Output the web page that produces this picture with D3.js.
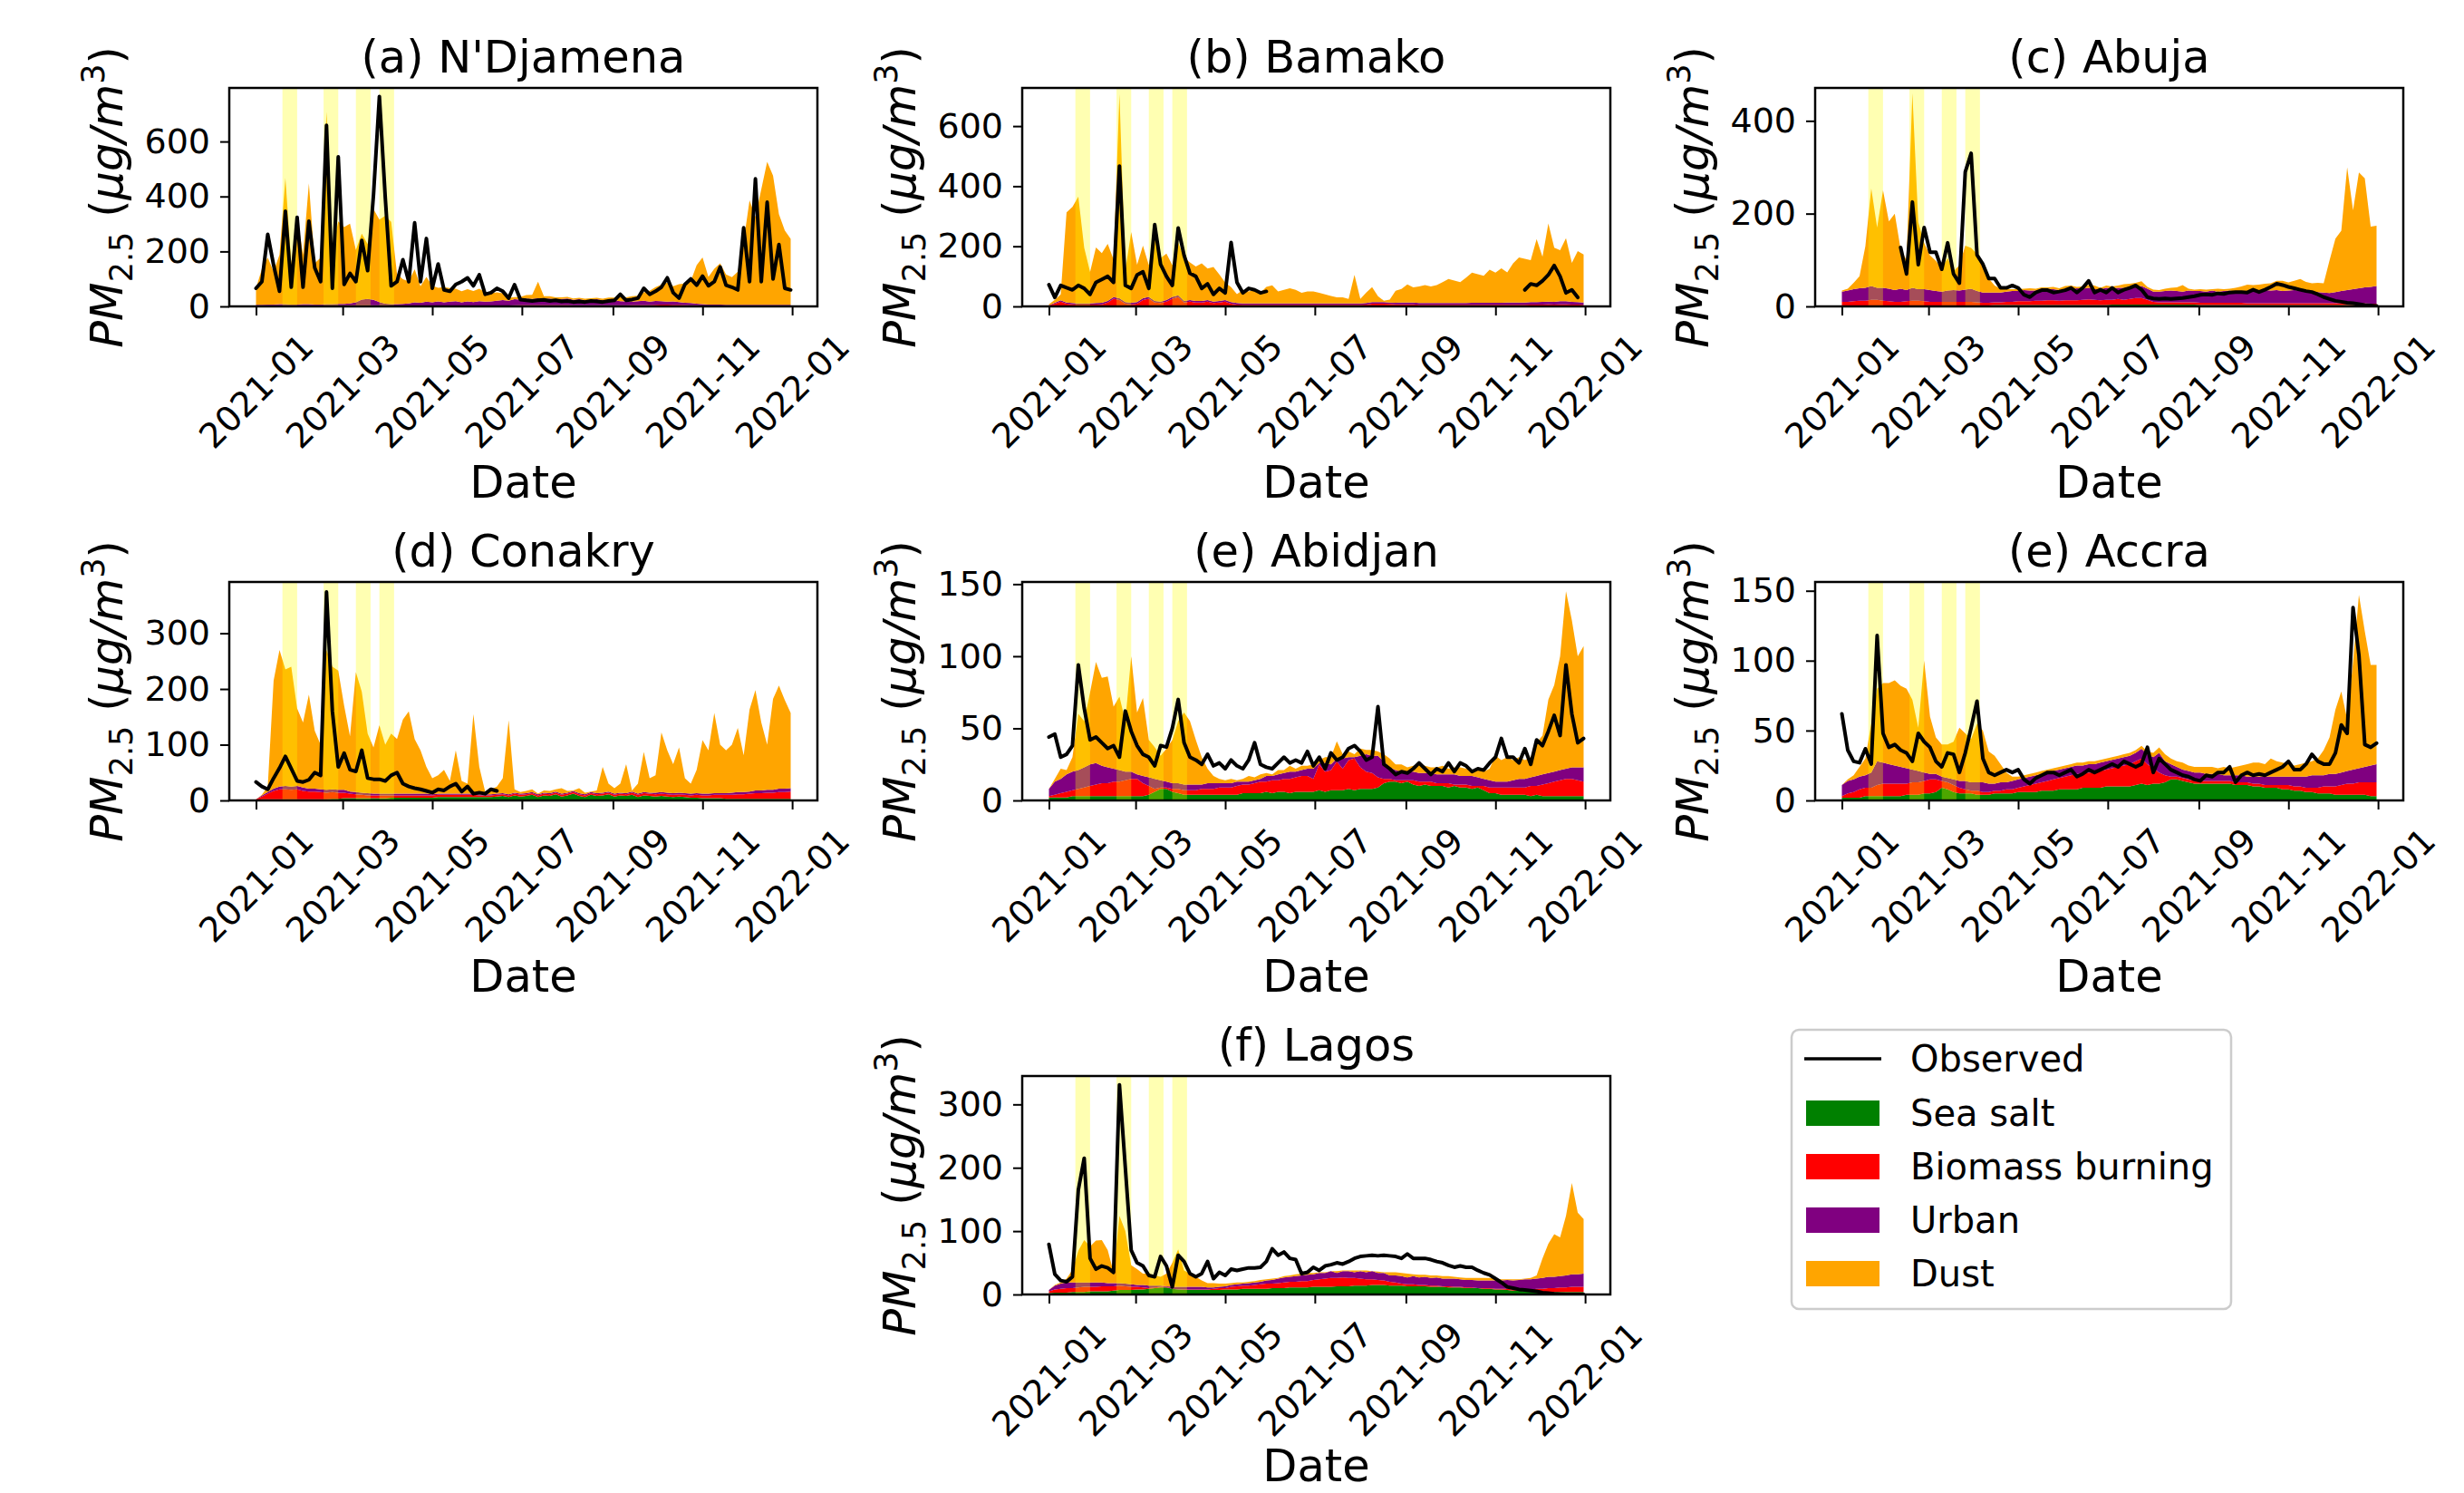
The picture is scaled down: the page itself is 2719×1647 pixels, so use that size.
<!DOCTYPE html>
<html>
<head>
<meta charset="utf-8">
<script src="https://cdn.jsdelivr.net/npm/d3@7"></script>
<style>
  body { margin: 0; background: #fff; }
  text { font-family: "DejaVu Sans", sans-serif; fill: #000; }
</style>
</head>
<body>
<svg id="mainsvg"></svg>
<script>
// all series are sampled every 4 days from 2021-01-01 (92 values, last = 2021-12-31)
const ndjObserved = [66,90,262,150,55,346,70,324,70,310,
  140,90,659,66,544,80,120,90,240,130,
  407,764,396,75,90,170,90,304,90,247,
  66,154,60,55,80,90,104,75,115,44,
  50,66,55,30,79,25,22,20,22,24,
  20,22,18,20,16,18,16,20,18,16,
  20,22,44,22,25,30,66,44,55,70,
  104,50,30,80,100,77,110,75,90,143,
  77,70,60,286,90,464,90,379,100,225,
  66,60];
const ndjDust = [60,130,170,120,180,460,150,320,180,440,
  150,170,700,200,300,280,290,190,240,200,
  330,300,320,300,110,90,80,120,60,90,
  60,50,55,50,45,40,45,40,45,35,
  30,30,25,10,8,10,12,15,60,10,
  8,8,6,6,5,5,6,6,5,6,
  8,10,15,15,20,20,30,40,50,60,
  70,55,65,70,80,140,170,100,130,150,
  110,100,120,230,380,320,420,520,470,330,
  270,240];
const ndjUrban = [3,3,3,3,4,4,3,3,4,4,
  3,3,4,4,5,5,6,10,20,22,
  20,12,6,5,5,6,8,12,10,14,
  12,15,12,14,16,12,15,13,16,14,
  15,18,20,18,22,20,24,22,25,22,
  24,20,22,24,20,22,18,20,22,18,
  20,18,15,14,12,14,16,12,14,12,
  10,12,10,8,8,6,5,4,4,4,
  3,3,3,3,3,3,3,3,3,3,
  3,3];
const ndjBiomass = [2,2,3,3,3,3,3,3,3,3,
  3,3,3,3,3,3,4,4,4,4,
  3,3,3,2,2,2,2,2,2,2,
  2,2,2,2,2,2,2,2,2,2,
  2,2,2,2,3,3,3,3,3,3,
  3,3,3,3,3,3,3,3,3,3,
  3,3,3,3,4,4,4,4,5,6,
  6,5,5,4,3,3,2,2,2,2,
  2,2,2,2,2,2,2,2,2,2,
  2,2];
const ndjSeaSalt = [1,1,1,1,1,1,1,1,1,1,
  1,1,1,1,1,1,1,1,1,1,
  1,1,1,1,1,1,1,1,1,1,
  1,1,1,1,1,1,1,1,1,1,
  1,1,1,1,1,2,2,2,2,2,
  2,2,2,2,1,1,1,1,1,1,
  1,1,1,1,1,1,1,1,1,1,
  1,1,1,1,1,1,1,1,1,1,
  1,1,1,1,1,1,1,1,1,1,
  1,1];

const bamObserved = [72,30,70,62,55,70,60,40,80,90,
  100,80,467,70,60,105,115,60,272,140,
  100,70,261,170,110,100,60,75,40,60,
  45,213,80,45,60,55,45,50,null,null,
  null,null,null,null,null,null,null,null,null,null,
  null,null,null,null,null,null,null,null,null,null,
  null,null,null,null,null,null,null,null,null,null,
  null,null,null,null,null,null,null,null,null,null,
  null,55,75,70,85,105,136,100,45,55,
  30,null];
const bamDust = [3,10,20,300,320,355,185,105,185,165,
  190,125,680,105,235,125,175,105,225,145,
  155,105,175,145,125,115,125,105,115,88,
  58,50,30,45,40,45,35,55,60,40,
  45,50,45,35,40,40,35,30,25,20,
  20,15,95,15,35,50,20,5,10,40,
  45,60,50,55,60,55,60,70,80,75,
  70,85,100,95,90,110,100,115,100,130,
  150,145,140,210,150,260,180,170,210,130,
  170,160];
const bamUrban = [1,3,4,4,4,4,4,4,5,5,
  5,5,6,5,5,5,6,6,5,5,
  5,6,6,5,5,5,5,5,5,5,
  5,5,5,5,5,5,5,5,5,5,
  5,5,5,5,5,5,5,5,5,5,
  5,5,5,5,5,5,5,5,5,5,
  6,6,6,6,6,6,6,6,6,6,
  6,6,7,7,7,7,7,7,8,8,
  8,8,8,8,9,9,9,10,10,9,
  8,8];
const bamBiomass = [2,8,15,8,6,5,5,5,5,6,
  12,25,20,8,6,8,20,25,12,10,
  15,25,30,12,15,12,12,15,10,12,
  15,8,5,4,4,4,4,4,4,4,
  4,4,4,4,4,4,4,4,4,4,
  4,4,4,4,5,6,6,6,5,4,
  4,4,4,4,4,4,4,4,4,4,
  4,4,4,4,4,4,4,4,4,4,
  4,4,5,5,5,6,5,6,6,5,
  5,4];
const bamSeaSalt = [1,1,1,1,1,1,1,1,1,1,
  1,1,1,1,1,1,1,1,1,1,
  1,1,1,1,1,1,1,1,1,1,
  1,1,1,1,1,1,1,1,1,1,
  1,1,1,1,1,1,1,1,1,1,
  1,1,1,1,1,3,3,3,3,3,
  3,3,3,1,1,1,1,1,1,1,
  1,1,1,1,1,1,1,1,1,1,
  1,1,1,1,1,1,1,1,1,1,
  1,1];

const abuObserved = [null,null,null,null,null,null,null,null,null,null,
  127,70,225,90,170,117,117,80,137,70,
  50,290,330,111,91,60,60,40,40,45,
  40,25,20,30,35,35,30,32,35,40,
  30,40,55,30,36,30,40,30,36,40,
  45,36,20,17,16,17,16,17,18,20,
  22,25,26,25,28,27,30,31,31,30,
  36,31,36,42,49,46,42,39,36,33,
  31,26,20,16,12,10,8,7,5,3,
  2,1];
const abuDust = [2,4,14,26,90,210,130,210,145,165,
  85,65,420,145,100,75,65,50,70,40,
  55,95,88,80,55,30,15,8,5,4,
  4,3,5,4,5,3,5,4,6,8,
  3,5,6,8,3,5,4,5,8,6,
  8,10,4,4,3,5,6,8,14,4,
  3,4,4,3,6,4,4,8,10,14,
  12,14,14,16,20,22,18,20,25,20,
  18,20,20,70,115,130,265,170,250,235,
  130,130];
const abuUrban = [22,24,26,27,28,30,26,28,27,25,
  28,24,28,25,26,25,23,22,24,25,
  24,26,28,24,22,22,21,21,22,23,
  22,24,23,22,24,25,24,23,25,24,
  26,24,25,23,24,26,25,24,26,27,
  25,26,24,22,23,24,25,24,23,25,
  24,25,24,26,24,25,26,24,25,26,
  27,26,28,27,28,26,27,28,27,26,
  25,24,23,22,24,26,28,30,32,34,
  36,38];
const abuBiomass = [8,8,9,10,10,12,12,10,9,8,
  8,9,10,10,9,8,8,8,8,8,
  8,8,8,7,6,6,6,6,7,7,
  8,8,8,9,9,10,10,9,10,10,
  10,11,12,11,10,11,10,12,10,12,
  14,14,10,6,5,5,5,5,5,5,
  5,5,5,5,5,5,5,5,5,4,
  4,4,4,4,4,4,4,4,4,4,
  4,4,4,4,4,4,4,4,4,4,
  3,3];
const abuSeaSalt = [2,2,2,2,2,2,2,2,2,2,
  2,2,2,2,2,2,2,2,2,2,
  2,2,2,2,2,2,3,3,3,3,
  3,3,3,3,3,3,3,3,3,3,
  3,3,3,3,3,3,4,4,4,4,
  4,4,4,4,4,4,4,4,4,4,
  4,3,3,3,3,3,3,3,3,3,
  3,3,3,3,3,3,3,3,3,3,
  3,3,3,3,3,3,3,3,3,3,
  3,3];

const conObserved = [33,25,20,40,58,79,57,35,33,37,
  50,45,374,160,60,85,55,52,90,40,
  38,38,35,45,50,30,25,22,20,17,
  14,20,18,25,30,16,25,12,14,12,
  20,17,null,null,null,null,null,null,null,null,
  null,null,null,null,null,null,null,null,null,null,
  null,null,null,null,null,null,null,null,null,null,
  null,null,null,null,null,null,null,null,null,null,
  null,null,null,null,null,null,null,null,null,null,
  null,null];
const conDust = [0,1,10,194,245,209,215,139,117,169,
  104,80,251,220,214,151,99,215,181,107,
  83,123,88,108,98,133,148,98,78,48,
  29,33,43,23,78,23,18,143,49,5,
  9,13,27,133,6,3,4,5,1,4,
  4,4,10,3,1,9,3,1,5,46,
  14,10,16,52,2,18,72,26,31,107,
  76,52,81,27,18,42,96,78,144,87,
  77,86,115,66,147,180,122,81,163,185,
  159,135];
const conUrban = [0,2,3,4,5,6,6,6,6,5,
  5,5,5,5,5,5,4,4,4,4,
  3,3,3,3,3,3,3,3,3,3,
  2,2,2,2,2,2,2,2,2,2,
  2,2,2,2,2,2,2,2,2,2,
  2,2,2,2,2,2,2,2,2,2,
  2,2,2,2,2,2,2,2,3,3,
  3,3,3,3,3,3,3,3,3,3,
  3,4,4,4,4,5,5,5,5,6,
  6,6];
const conBiomass = [1,5,10,15,18,18,17,18,15,14,
  14,13,12,12,11,10,8,7,6,5,
  5,5,5,4,4,4,4,4,4,4,
  4,4,4,4,4,4,4,4,3,3,
  3,3,3,3,3,3,3,3,3,3,
  3,3,3,3,3,3,3,3,3,3,
  3,3,3,3,4,4,4,4,4,4,
  4,4,4,4,4,5,5,5,6,6,
  7,7,8,8,9,10,10,11,11,12,
  12,13];
const conSeaSalt = [1,2,2,2,2,2,2,2,2,2,
  2,2,2,3,3,4,4,4,4,4,
  4,4,4,5,5,5,5,5,5,5,
  5,6,6,6,6,6,6,6,6,6,
  6,7,8,6,9,7,8,10,6,9,
  8,11,7,9,12,8,6,10,8,9,
  11,7,9,8,10,6,9,8,7,8,
  7,6,7,6,5,5,4,4,4,4,
  3,3,3,3,3,3,3,3,3,3,
  3,3];

const abiObserved = [44,46,30,32,38,94,64,42,44,40,
  36,38,30,62,48,38,32,30,24,38,
  37,50,70,40,30,28,25,32,24,26,
  22,28,24,22,28,40,25,23,22,26,
  30,26,28,26,34,24,30,22,33,28,
  30,36,38,34,28,30,65,25,22,18,
  20,19,22,26,22,18,22,20,26,20,
  26,24,20,22,21,26,30,43,30,30,
  26,36,25,42,38,48,59,45,94,60,
  40,43];
const abiDust = [0,2,7,3,10,39,32,50,70,61,
  63,43,51,35,80,43,54,26,22,17,
  23,30,43,50,44,31,19,10,5,3,
  2,3,1,2,4,2,3,2,1,3,
  2,4,2,3,2,3,2,4,5,12,
  3,4,2,5,3,4,3,5,6,4,
  5,3,4,6,5,4,5,6,4,5,
  6,5,4,6,5,8,18,15,17,14,
  15,13,14,23,27,51,60,79,123,102,
  77,84];
const abiUrban = [5,9,10,12,13,13,14,15,15,12,
  11,9,8,6,5,3,5,6,7,5,
  4,4,4,4,4,4,3,4,4,3,
  3,3,3,2,2,2,2,4,3,4,
  4,5,4,4,5,7,1,6,4,2,
  7,2,1,8,12,12,15,12,8,7,
  6,6,6,6,6,6,6,6,6,7,
  6,6,7,6,5,5,4,4,4,5,
  6,6,6,7,7,7,7,7,7,8,
  9,10];
const abiBiomass = [1,2,3,4,4,5,6,7,8,9,
  9,10,10,11,12,12,9,6,2,1,
  1,2,3,3,3,3,4,4,4,5,
  5,5,6,6,6,7,8,7,9,8,
  9,10,10,11,11,9,18,14,14,20,
  15,20,22,15,12,11,7,3,2,1,
  2,1,3,3,2,3,2,2,3,1,
  2,2,2,1,3,4,4,5,5,5,
  5,5,7,6,8,9,10,11,12,12,
  11,10];
const abiSeaSalt = [2,2,2,2,3,3,3,3,3,3,
  3,3,3,3,3,3,3,4,6,8,
  8,6,5,4,4,4,4,4,4,4,
  4,4,4,5,5,5,5,6,5,6,
  6,5,6,6,6,6,7,6,7,7,
  7,8,7,8,8,8,9,12,13,13,
  12,13,11,10,11,10,10,10,9,10,
  9,9,8,9,7,5,5,4,4,4,
  4,4,3,4,3,3,3,3,3,3,
  3,3];

const accObserved = [62,36,28,27,37,26,118,48,38,40,
  36,34,28,48,42,38,28,24,34,33,
  20,34,52,71,30,20,18,20,22,20,
  22,15,12,16,18,20,20,18,20,22,
  17,19,22,20,22,24,26,24,28,26,
  24,26,38,20,30,26,22,20,18,17,
  15,14,18,17,20,20,24,13,18,20,
  18,19,18,20,22,24,28,22,22,26,
  33,28,26,26,34,54,48,138,104,40,
  38,41];
const accDust = [0,1,3,7,12,35,52,57,58,61,
  58,57,50,31,80,41,26,23,24,27,
  38,34,31,42,37,23,20,13,7,3,
  2,2,2,2,2,2,2,2,2,2,
  2,2,2,2,2,2,2,2,2,2,
  2,2,2,3,4,5,4,4,5,4,
  4,4,5,5,4,6,5,6,7,9,
  10,10,9,13,11,10,9,8,9,10,
  10,12,18,26,46,58,37,77,124,97,
  72,71];
const accUrban = [8,9,9,9,9,11,17,15,14,13,
  12,11,9,8,6,4,4,3,3,4,
  5,6,6,6,7,6,5,6,5,6,
  6,6,6,6,6,6,6,6,6,6,
  6,6,6,6,6,6,6,6,6,6,
  6,7,7,8,14,10,9,7,6,6,
  6,6,5,5,5,4,4,5,5,4,
  5,5,6,6,6,6,6,7,7,8,
  9,9,8,9,9,9,9,10,10,11,
  12,13];
const accBiomass = [1,3,4,6,6,6,8,9,9,9,
  9,8,9,9,9,10,9,5,5,5,
  4,3,2,3,2,2,2,2,3,3,
  3,4,5,6,6,7,8,8,9,10,
  11,10,11,11,12,12,13,14,15,16,
  17,18,15,11,8,5,2,2,2,2,
  2,2,2,2,2,2,2,2,2,2,
  2,2,2,2,2,3,3,3,3,3,
  3,4,5,5,6,7,8,8,9,9,
  10,10];
const accSeaSalt = [2,2,2,2,3,3,3,3,3,3,
  3,4,4,4,5,5,6,9,8,6,
  5,5,5,4,4,4,5,5,5,5,
  6,6,6,6,7,7,7,8,8,8,
  8,9,9,9,9,10,10,10,10,10,
  11,12,11,12,12,13,15,15,14,13,
  12,12,12,12,12,12,12,11,11,11,
  10,10,9,9,9,8,8,7,7,6,
  6,5,5,5,4,4,4,4,4,4,
  3,3];

const lagObserved = [79,32,22,20,28,165,215,57,40,45,
  42,35,331,200,70,50,45,30,28,60,
  45,12,62,52,33,28,33,52,25,35,
  30,40,38,40,42,42,43,52,72,62,
  67,57,55,33,35,43,38,45,47,50,
  48,52,57,60,61,62,61,62,61,60,
  57,64,57,57,57,55,52,50,46,43,
  45,43,43,38,34,31,25,19,12,10,
  8,7,6,5,3,2,1,0.5,0,0,
  0,0];
const lagDust = [0,1,2,6,20,50,67,57,66,67,
  52,17,106,83,30,25,18,19,16,14,
  20,38,59,26,21,16,10,7,7,5,
  4,3,3,2,2,2,3,2,2,1,
  2,2,3,3,3,2,1,1,0,3,
  1,1,3,1,3,0,2,1,5,5,
  5,6,3,4,3,4,3,4,4,3,
  3,3,3,4,4,4,3,2,1,2,
  1,1,2,5,31,52,67,61,94,144,
  97,86];
const lagUrban = [2,6,8,9,9,8,7,7,7,6,
  5,5,4,4,4,3,4,4,3,2,
  1,3,4,4,4,4,4,3,2,2,
  3,3,3,3,4,4,4,5,6,7,
  8,8,9,9,10,9,10,9,11,8,
  10,11,9,12,11,13,11,12,10,11,
  12,11,13,12,13,12,13,12,12,13,
  12,12,12,12,12,12,13,13,14,14,
  15,16,16,16,17,18,18,18,19,20,
  20,21];
const lagBiomass = [3,5,6,7,6,7,8,7,7,8,
  8,7,7,6,5,4,3,1,1,1,
  1,0,0,1,1,1,1,1,2,3,
  2,4,5,5,5,6,7,8,7,8,
  9,9,9,10,10,11,12,13,14,13,
  14,13,12,11,10,9,8,7,6,5,
  3,3,3,2,2,2,2,1,2,1,
  1,1,1,0,1,1,1,1,2,2,
  2,3,3,4,5,6,6,7,7,8,
  8,8];
const lagSeaSalt = [2,3,3,3,4,4,4,5,5,5,
  5,6,7,7,7,8,8,9,10,11,
  11,9,8,7,7,7,7,7,7,7,
  8,8,8,9,9,9,9,9,10,10,
  10,11,11,11,11,12,12,12,12,13,
  13,13,14,14,14,15,15,15,14,14,
  14,13,13,13,13,12,12,12,11,11,
  11,10,10,10,9,9,8,8,7,6,
  6,5,5,5,4,4,4,4,4,4,
  4,4];

const seriesKeys = ["seaSalt", "biomass", "urban", "dust"];
const seriesNames = ["Sea salt", "Biomass burning", "Urban", "Dust"];
const seriesColors = ["green", "red", "purple", "orange"];
const eventBands = [["2021-01-19", "2021-01-29"], ["2021-02-16", "2021-02-26"],
                    ["2021-03-10", "2021-03-20"], ["2021-03-26", "2021-04-05"]];

const panels = [
  {title: "(a) N'Djamena", observed: ndjObserved, dust: ndjDust, urban: ndjUrban, biomass: ndjBiomass, seaSalt: ndjSeaSalt, yMax: 795, yTicks: [0, 200, 400, 600]},
  {title: "(b) Bamako", observed: bamObserved, dust: bamDust, urban: bamUrban, biomass: bamBiomass, seaSalt: bamSeaSalt, yMax: 727, yTicks: [0, 200, 400, 600]},
  {title: "(c) Abuja", observed: abuObserved, dust: abuDust, urban: abuUrban, biomass: abuBiomass, seaSalt: abuSeaSalt, yMax: 471, yTicks: [0, 200, 400]},
  {title: "(d) Conakry", observed: conObserved, dust: conDust, urban: conUrban, biomass: conBiomass, seaSalt: conSeaSalt, yMax: 392, yTicks: [0, 100, 200, 300]},
  {title: "(e) Abidjan", observed: abiObserved, dust: abiDust, urban: abiUrban, biomass: abiBiomass, seaSalt: abiSeaSalt, yMax: 151.5, yTicks: [0, 50, 100, 150]},
  {title: "(e) Accra", observed: accObserved, dust: accDust, urban: accUrban, biomass: accBiomass, seaSalt: accSeaSalt, yMax: 156.3, yTicks: [0, 50, 100, 150]},
  {title: "(f) Lagos", observed: lagObserved, dust: lagDust, urban: lagUrban, biomass: lagBiomass, seaSalt: lagSeaSalt, yMax: 344.8, yTicks: [0, 100, 200, 300]}
];

// layout
const svgWidth = 2719, svgHeight = 1647;
const plotW = 649, plotH = 241;
const colX = [253, 1128, 2003], rowY = [97, 642, 1187];
const dateOffset = [211, 211, 206]; // bottom row pulled up a little to stay inside the canvas
const slots = [[0, 0], [1, 0], [2, 0], [0, 1], [1, 1], [2, 1], [1, 2]];
const fsTick = 38, fsLabel = 49.5, fsLegend = 40;
const tickLen = 10, tickPad = 11, xTickPad = 12;

let mainsvg = d3.select("#mainsvg").attr("width", svgWidth).attr("height", svgHeight);
mainsvg.append("rect").attr("width", svgWidth).attr("height", svgHeight).attr("fill", "#fff");

const parseDay = d3.timeParse("%Y-%m-%d");
const firstDay = new Date(2021, 0, 1);
const dates = d3.range(ndjObserved.length).map(i => d3.timeDay.offset(firstDay, i * 4));
const span = dates[dates.length - 1] - dates[0];
const xDomain = [new Date(+dates[0] - span * 0.05), new Date(+dates[dates.length - 1] + span * 0.05)];

panels.forEach((p, k) => {
  const [c, r] = slots[k];
  const g = mainsvg.append("g").attr("transform", `translate(${colX[c]},${rowY[r]})`);
  const x = d3.scaleTime().domain(xDomain).range([0, plotW]);
  const y = d3.scaleLinear().domain([0, p.yMax]).range([plotH, 0]);

  const clipId = "clip" + k;
  g.append("clipPath").attr("id", clipId).append("rect").attr("width", plotW).attr("height", plotH);
  const inner = g.append("g").attr("clip-path", `url(#${clipId})`);

  const rows = dates.map((d, i) => ({date: d, seaSalt: p.seaSalt[i], biomass: p.biomass[i], urban: p.urban[i], dust: p.dust[i]}));
  const stacked = d3.stack().keys(seriesKeys)(rows);
  const area = d3.area().x(d => x(d.data.date)).y0(d => y(d[0])).y1(d => y(d[1]));
  inner.selectAll(".layer").data(stacked).enter().append("path")
    .attr("class", "layer")
    .attr("fill", (d, i) => seriesColors[i])
    .attr("d", area);

  inner.selectAll(".band").data(eventBands).enter().append("rect")
    .attr("class", "band")
    .attr("x", d => x(parseDay(d[0])))
    .attr("width", d => x(parseDay(d[1])) - x(parseDay(d[0])))
    .attr("y", 0).attr("height", plotH)
    .attr("fill", "yellow").attr("fill-opacity", 0.3);

  const line = d3.line().defined(d => d[1] != null).x(d => x(d[0])).y(d => y(d[1]));
  inner.append("path")
    .datum(dates.map((d, i) => [d, p.observed[i]]))
    .attr("fill", "none").attr("stroke", "#000").attr("stroke-width", 4)
    .attr("stroke-linejoin", "round").attr("stroke-linecap", "round")
    .attr("d", line);

  // axes
  const yAxis = g.append("g").call(d3.axisLeft(y).tickValues(p.yTicks).tickSize(tickLen).tickPadding(tickPad));
  yAxis.select(".domain").remove();
  yAxis.selectAll(".tick line").attr("stroke-width", 2);
  yAxis.selectAll(".tick text").style("font-size", fsTick + "px").attr("font-family", "DejaVu Sans");

  const xAxis = g.append("g").attr("transform", `translate(0,${plotH})`)
    .call(d3.axisBottom(x).ticks(d3.timeMonth.every(2)).tickFormat(d3.timeFormat("%Y-%m")).tickSize(tickLen));
  xAxis.select(".domain").remove();
  xAxis.selectAll(".tick line").attr("stroke-width", 2);
  xAxis.selectAll(".tick text").each(function() {
    const t = d3.select(this).style("font-size", fsTick + "px").attr("font-family", "DejaVu Sans");
    const L = this.getComputedTextLength();
    const half = (L + fsTick * 1.164) * Math.SQRT1_2 / 2;
    t.attr("x", null).attr("y", null).attr("dy", null)
      .attr("text-anchor", "middle").attr("dominant-baseline", "central")
      .attr("transform", `translate(0,${tickLen + xTickPad + half}) rotate(-45)`);
  });

  g.append("rect").attr("width", plotW).attr("height", plotH)
    .attr("fill", "none").attr("stroke", "#000").attr("stroke-width", 2.5);

  g.append("text").attr("x", plotW / 2).attr("y", -17)
    .attr("text-anchor", "middle").style("font-size", fsLabel + "px").text(p.title);

  g.append("text").attr("x", plotW / 2).attr("y", plotH + dateOffset[r])
    .attr("text-anchor", "middle").style("font-size", fsLabel + "px").text("Date");

  const yl = g.append("text")
    .attr("transform", `translate(-118,${plotH / 2}) rotate(-90)`)
    .attr("text-anchor", "middle").style("font-size", fsLabel + "px");
  yl.append("tspan").style("font-style", "italic").text("PM");
  yl.append("tspan").attr("dy", 11).style("font-size", "35px").text("2.5");
  yl.append("tspan").attr("dy", -11).text(" (");
  yl.append("tspan").style("font-style", "italic").text("\u03bcg/m");
  yl.append("tspan").attr("dy", -20).style("font-size", "35px").text("3");
  yl.append("tspan").attr("dy", 20).text(")");
});

// legend
const lx = 1977, ly = 1136;
const legend = mainsvg.append("g").attr("transform", `translate(${lx},${ly})`);
legend.append("rect").attr("width", 485).attr("height", 308).attr("rx", 8)
  .attr("fill", "#fff").attr("stroke", "#cccccc").attr("stroke-width", 2.5);
const rowCenters = [32, 92, 151, 210, 269];
legend.append("line").attr("x1", 14).attr("x2", 99).attr("y1", rowCenters[0]).attr("y2", rowCenters[0])
  .attr("stroke", "#000").attr("stroke-width", 3.5);
legend.append("text").attr("x", 131).attr("y", rowCenters[0] + fsLegend * 0.36)
  .style("font-size", fsLegend + "px").text("Observed");
seriesNames.forEach((name, i) => {
  const cy = rowCenters[i + 1];
  legend.append("rect").attr("x", 16).attr("y", cy - 14).attr("width", 81).attr("height", 28)
    .attr("fill", seriesColors[i]);
  legend.append("text").attr("x", 131).attr("y", cy + fsLegend * 0.36)
    .style("font-size", fsLegend + "px").text(name);
});
</script>
</body>
</html>
